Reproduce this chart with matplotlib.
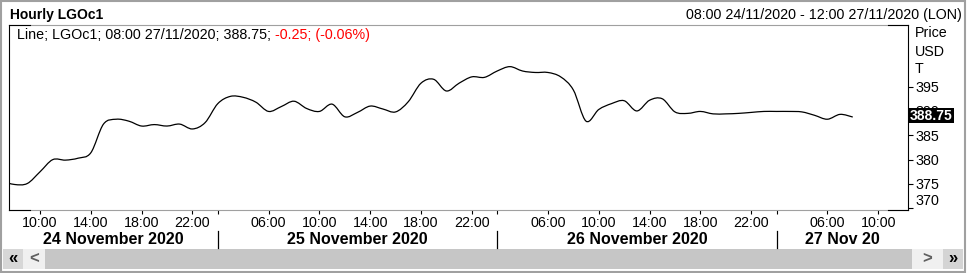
import numpy as np
import matplotlib.pyplot as plt
from matplotlib.patches import Rectangle, PathPatch
from matplotlib.lines import Line2D
from matplotlib.path import Path
from matplotlib.transforms import blended_transform_factory

plt.rcParams['font.family'] = ['Liberation Sans', 'DejaVu Sans']

W, H = 967, 273

# --- data -------------------------------------------------------------
day_names = ["24 November 2020", "25 November 2020", "26 November 2020", "27 Nov 20"]
session_hours = list(range(2, 24))      # hourly bars 02:00 - 23:00 each day
first_bar_hour = 7                      # first bar on 24 Nov
last_bar_hour = 12                      # axis runs up to 12:00 on 27 Nov
labelled_hours = [6, 10, 14, 18, 22]

# hourly closes, 24 Nov 07:00 -> 27 Nov 08:00
prices = [
    375.6, 374.9, 375.1, 377.5, 380.0, 379.9, 380.3, 381.4, 387.3, 388.3,
    387.9, 386.9, 387.2, 386.9, 387.3, 386.3, 387.6,
    391.5, 393.0, 392.8, 391.8, 389.9, 390.9, 392.0, 390.5, 389.9, 391.4,
    388.8, 389.7, 391.0, 390.4, 389.8, 391.9, 395.7, 396.5, 394.1, 395.7,
    397.0, 396.9,
    398.2, 399.1, 398.2, 397.9, 397.9, 397.0, 394.3, 387.9, 390.3, 391.5,
    392.1, 390.0, 392.2, 392.5, 389.8, 389.5, 389.9, 389.4, 389.4, 389.5,
    389.7, 389.9,
    389.9, 389.9, 389.8, 389.1, 388.3, 389.3, 388.75,
]

y_ticks = [370, 375, 380, 385, 390, 395]
last_price = "388.75"
legend_main = "Line; LGOc1; 08:00 27/11/2020; 388.75; "
legend_change = "-0.25; (-0.06%)"
title = "Hourly LGOc1"
range_text = "08:00 24/11/2020 - 12:00 27/11/2020 (LON)"
unit_labels = ["Price", "USD", "T"]

# --- bar index (trading hours only) -----------------------------------
bars = []
for d in range(len(day_names)):
    for h in session_hours:
        if d == 0 and h < first_bar_hour:
            continue
        if d == len(day_names) - 1 and h > last_bar_hour:
            continue
        bars.append((d, h))

x = np.arange(len(prices), dtype=float)
y = np.array(prices)
day_starts = [bars.index((d, session_hours[0])) for d in range(1, len(day_names))]
hour_pos = [i for i, (d, h) in enumerate(bars) if h in labelled_hours]
hour_lab = ["%02d:00" % bars[i][1] for i in hour_pos]

x0, x1 = 0.56, 71.35
y0, y1 = 369.66, 407.65
FS = 10.3


def fx(px):
    return px / W


def fy(py):
    return 1 - py / H


fig = plt.figure(figsize=(W / 100, H / 100), dpi=100)
ax = fig.add_axes([fx(9), fy(210), fx(908) - fx(9), fy(25) - fy(210)])

# smoothed line through the hourly closes (the terminal draws it as a curve)
pts = np.column_stack([x, y])
verts = [pts[0]]
codes = [Path.MOVETO]
n = len(pts)
for i in range(n - 1):
    p_prev = pts[max(i - 1, 0)]
    p0, p1 = pts[i], pts[i + 1]
    p_next = pts[min(i + 2, n - 1)]
    verts += [p0 + (p1 - p_prev) / 6, p1 - (p_next - p0) / 6, p1]
    codes += [Path.CURVE4] * 3
ax.add_patch(PathPatch(Path(verts, codes), facecolor='none', edgecolor='black',
                       lw=0.9, joinstyle='round'))
ax.set_xlim(x0, x1)
ax.set_ylim(y0, y1)

for s in ['top', 'bottom']:
    ax.spines[s].set_color('#a0a0a0')
for s in ['left', 'right']:
    ax.spines[s].set_color('black')
for s in ax.spines.values():
    s.set_linewidth(0.8)

# y axis on the right
ax.yaxis.tick_right()
ax.set_yticks(y_ticks)
ax.set_yticklabels([str(v) for v in y_ticks])
ax.tick_params(axis='y', direction='out', length=3.5, width=0.8, pad=2,
               labelsize=FS, colors='black')
ax.get_yticklabels()[0].set_verticalalignment('bottom')

# x axis: hours and day breaks
ax.set_xticks(hour_pos)
ax.set_xticklabels(hour_lab)
ax.set_xticks(day_starts, minor=True)
ax.tick_params(axis='x', which='both', direction='out', length=3, width=0.8,
               pad=1.5, labelsize=FS)

# black corners on the grey top / bottom borders
for py in [25, 210]:
    fig.add_artist(Line2D([fx(9), fx(30)], [fy(py), fy(py)], color='black', lw=0.8))
    fig.add_artist(Line2D([fx(888), fx(908)], [fy(py), fy(py)], color='black', lw=0.8))

# day labels and separators
tr = blended_transform_factory(ax.transData, fig.transFigure)
edges = [x0] + day_starts + [x1]
for k, name in enumerate(day_names):
    cx = (edges[k] + edges[k + 1]) / 2
    ax.text(cx, fy(239), name, transform=tr, ha='center', va='center',
            fontsize=11.5, fontweight='bold', clip_on=False)
for ds in day_starts:
    fig.add_artist(Line2D([ds, ds], [fy(231), fy(248)], transform=tr,
                          color='black', lw=0.9))

# header
fig.text(fx(10), fy(15), title, fontsize=10, fontweight='bold', va='center')
fig.text(fx(962), fy(15), range_text, fontsize=FS, va='center', ha='right')

# legend line inside the plot
t1 = fig.text(fx(17), fy(35), legend_main, fontsize=FS, va='center')
ax.annotate(legend_change, xy=(1, 0), xycoords=t1, va='bottom',
            fontsize=FS, color='#ff0000')

# units on the price axis
for lab, py in zip(unit_labels, [33.3, 51.7, 69.3]):
    fig.text(fx(915), fy(py), lab, fontsize=FS, va='center')

# last price tag
fig.add_artist(Rectangle((fx(908), fy(122.7)), fx(954) - fx(908), fy(108.3) - fy(122.7),
                         facecolor='black', edgecolor='none'))
fig.text(fx(931), fy(115.5), last_price, fontsize=10, fontweight='bold',
         color='white', ha='center', va='center')

# scroll bar
sb_top, sb_bot = 249, 269.3
for (a, b, c) in [(45, 911.7, '#c6c6c6'), (2.7, 23.3, '#d7d7d7'), (23.3, 45, '#f0f0f0'),
                  (911.7, 943.3, '#f0f0f0'), (943.3, 963.3, '#d4d4d4')]:
    fig.add_artist(Rectangle((fx(a), fy(sb_bot)), fx(b) - fx(a), fy(sb_top) - fy(sb_bot),
                             facecolor=c, edgecolor='none'))
for (px, g, c) in [(13, '\u00ab', 'black'), (34, '<', '#606060'),
                   (927.5, '>', '#606060'), (953.3, '\u00bb', 'black')]:
    fig.text(fx(px), fy(259), g, fontsize=12, fontweight='bold', color=c,
             ha='center', va='center')

# outer frame
fig.add_artist(Rectangle((fx(0.8), fy(271.5)), fx(965.5) - fx(0.8), fy(0.8) - fy(271.5),
                         facecolor='none', edgecolor='#a0a0a0', lw=1.5))

fig.savefig('out.png', dpi=100)
